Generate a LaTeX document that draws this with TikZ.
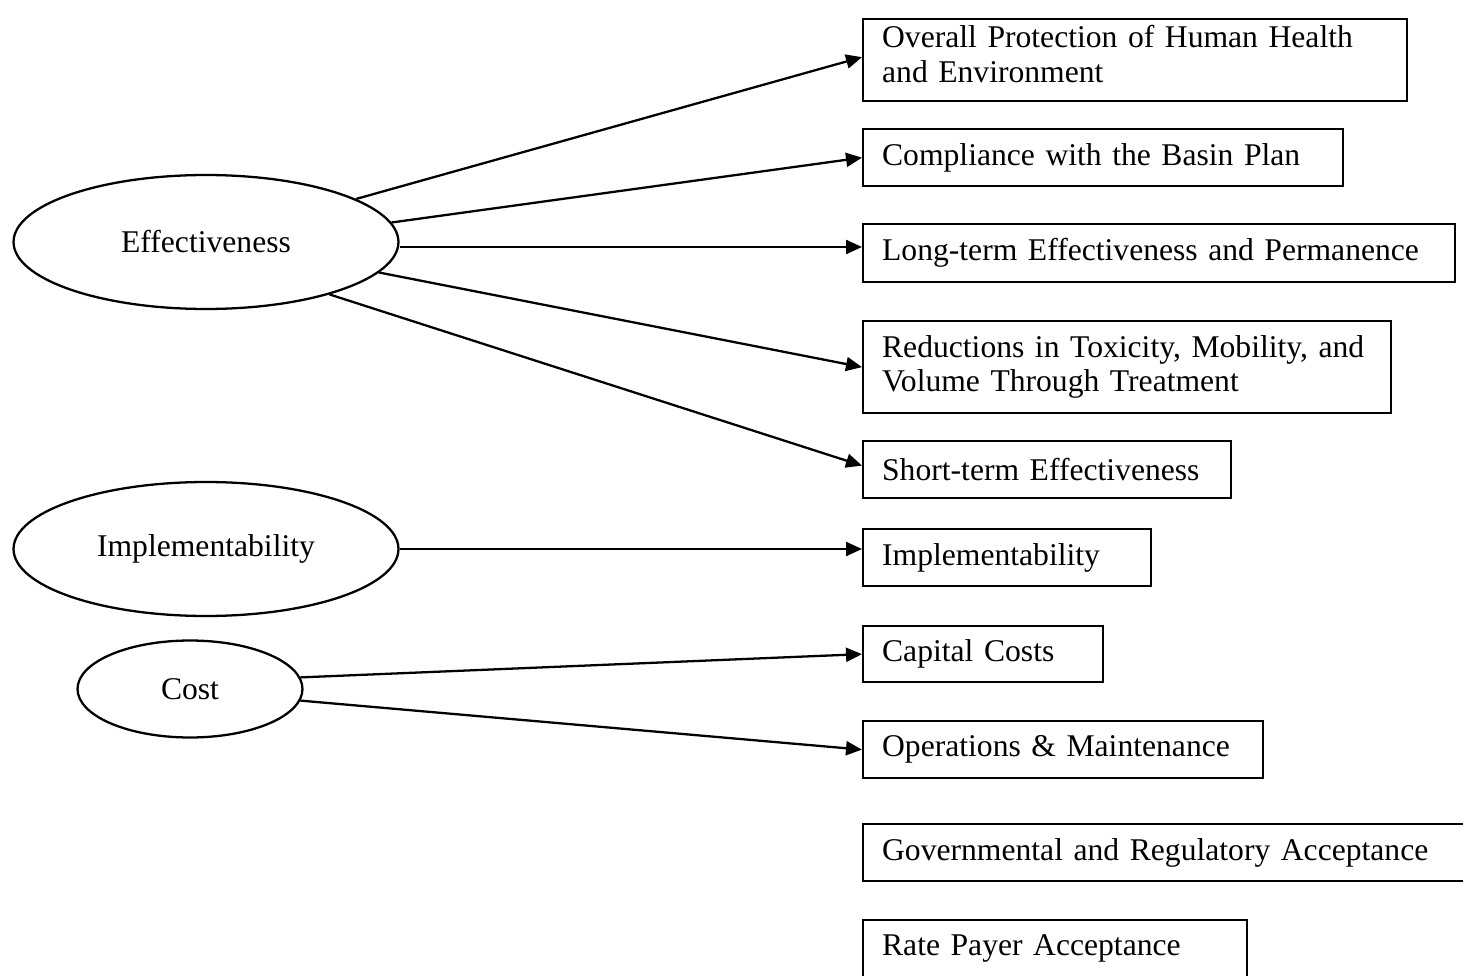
\documentclass[tikz,border=0pt]{standalone}
\usepackage{fontspec}
\setmainfont{Liberation Serif}
\usetikzlibrary{arrows.meta,shapes.geometric}

\begin{document}
\begin{tikzpicture}[x=0.02cm, y=-0.02cm]
	\tikzstyle{goal} = [
		ellipse, draw=black, line width=1.3pt, inner sep=0pt
	]
	\tikzstyle{goal_big} = [
		goal, minimum width=7.7cm, minimum height=2.68cm
	]
	\tikzstyle{goal_small} = [
		goal, minimum width=4.5cm, minimum height=1.94cm
	]
	\tikzstyle{crit} = [
		rectangle, draw=black, line width=1.3pt, anchor=north west,
		align=left, inner xsep=0.38cm, inner ysep=0pt
	]
	\tikzstyle{conn} = [
		line width=1.3pt, -{Triangle[length=0.32cm, width=0.28cm]}
	]
	\fontsize{18}{19.5}\selectfont
	\useasboundingbox (0,0) rectangle (1463,976);
	\clip (0,0) rectangle (1463,976);

	% Ellipses links
	\node (Effectiveness) [goal_big] at (206,242) {Effectiveness};
	\node (Implementability) [goal_big] at (206,549) {Implementability};
	\node (Cost) [goal_small] at (190,689) {Cost};

	% Kriterien rechts
	\node (Protection) [crit, text width=10.12cm, minimum height=1.64cm, text depth=0.94cm] at (862,18) {Overall Protection of Human Health\\and Environment};
	\node (Compliance) [crit, text width=8.84cm, minimum height=1.14cm] at (862,128) {Compliance with the Basin Plan};
	\node (LongTerm) [crit, text width=11.08cm, minimum height=1.16cm] at (862,223) {Long-term Effectiveness and Permanence};
	\node (Reductions) [crit, text width=9.80cm, minimum height=1.84cm] at (862,320) {Reductions in Toxicity, Mobility, and\\Volume Through Treatment};
	\node (ShortTerm) [crit, text width=6.60cm, minimum height=1.14cm] at (862,440) {Short-term Effectiveness};
	\node (ImplBox) [crit, text width=5.00cm, minimum height=1.14cm] at (862,528) {Implementability};
	\node (Capital) [crit, text width=4.04cm, minimum height=1.12cm] at (862,625) {Capital Costs};
	\node (Operations) [crit, text width=7.24cm, minimum height=1.14cm] at (862,720) {Operations \& Maintenance};
	\node (Governmental) [crit, text width=11.64cm, minimum height=1.14cm] at (862,823) {Governmental and Regulatory Acceptance};
	\node (RatePayer) [crit, text width=6.92cm, minimum height=1.14cm] at (862,919) {Rate Payer Acceptance};

	% Effectiveness -> Kriterien
	\draw[conn] (Effectiveness.16) -- ([yshift=0.06cm]Protection.west);
	\draw[conn] (Effectiveness.6) -- (Compliance.west);
	\draw[conn] ([yshift=-0.1cm]Effectiveness.east) -- ([yshift=-0.1cm]Effectiveness.east -| LongTerm.west);
	\draw[conn] (Effectiveness.-10) -- (Reductions.west);
	\draw[conn] (Effectiveness.-23) -- ([yshift=0.08cm]ShortTerm.west);
	% Implementability -> Kriterien
	\draw[conn] (Implementability.east) -- (Implementability.east -| ImplBox.west);
	% Cost -> Kriterien
	\draw[conn] (Cost.6) -- (Capital.west);
	\draw[conn] (Cost.-6) -- (Operations.west);

\end{tikzpicture}
\end{document}
